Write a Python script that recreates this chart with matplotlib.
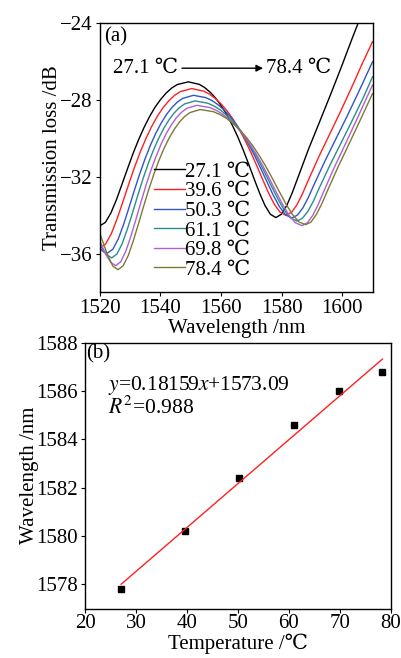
import matplotlib
matplotlib.use('Agg')
import matplotlib.pyplot as plt

plt.rcParams['font.family'] = ['Liberation Serif', 'DejaVu Serif', 'DejaVu Sans']
plt.rcParams['mathtext.fontset'] = 'stix'

# (a) transmission spectra
temps = ['27.1', '39.6', '50.3', '61.1', '69.8', '78.4']
colors = ['black', '#ff2020', '#2f55c8', '#2a8e8a', '#b060d0', '#7d7a35']

wl_271 = [1520, 1521.83, 1523.65, 1525.48, 1527.3, 1529.13, 1530.95, 1532.78, 1534.6, 1536.43, 1538.25,
          1540.08, 1541.9, 1543.73, 1545.55, 1549.2, 1552.81, 1554.62, 1556.43, 1558.23, 1560.04, 1561.84,
          1563.65, 1565.46, 1567.26, 1569.07, 1570.88, 1572.68, 1574.49, 1576.29, 1578.1, 1579.9, 1581.7,
          1583.5, 1585.3, 1588.9, 1592.5, 1596.2, 1599.8, 1603.4, 1607.0, 1610]
tl_271 = [-34.55, -34.37, -33.88, -33.19, -32.39, -31.58, -30.79, -30.07, -29.43, -28.86, -28.37,
          -27.97, -27.64, -27.38, -27.20, -27.06, -27.19, -27.36, -27.60, -27.91, -28.30, -28.75,
          -29.29, -29.90, -30.58, -31.32, -32.09, -32.83, -33.49, -33.95, -34.12, -33.95, -33.49,
          -32.83, -32.07, -30.55, -29.15, -27.70, -26.25, -24.75, -23.30, -22.0]

wl_396 = [1520, 1521.89, 1523.79, 1525.68, 1527.58, 1529.47, 1531.36, 1533.26, 1535.15, 1537.04, 1538.94,
          1540.83, 1542.73, 1544.62, 1546.51, 1550.3, 1554.19, 1556.13, 1558.08, 1560.02, 1561.96, 1563.91,
          1565.85, 1567.79, 1569.74, 1571.68, 1573.63, 1575.57, 1577.51, 1579.46, 1581.4, 1583.3, 1585.0,
          1586.8, 1588.6, 1592.2, 1595.8, 1599.5, 1603.1, 1606.7, 1610]
tl_396 = [-35.70, -35.50, -34.96, -34.19, -33.31, -32.41, -31.54, -30.74, -30.03, -29.40, -28.86,
          -28.41, -28.05, -27.77, -27.57, -27.41, -27.54, -27.69, -27.92, -28.21, -28.56, -28.99,
          -29.49, -30.06, -30.69, -31.38, -32.10, -32.80, -33.41, -33.84, -34.00, -33.84, -33.47,
          -32.91, -32.25, -30.98, -29.80, -28.58, -27.35, -26.08, -24.97]

wl_503 = [1520, 1521.2, 1522.5, 1524.28, 1526.05, 1527.83, 1529.6, 1531.38, 1533.15, 1534.93, 1536.7,
          1538.48, 1540.25, 1542.03, 1543.8, 1545.58, 1547.35, 1550.9, 1554.96, 1556.99, 1559.03, 1561.06,
          1563.09, 1565.12, 1567.15, 1569.18, 1571.21, 1573.24, 1575.28, 1577.31, 1579.34, 1581.37, 1583.4,
          1585.2, 1587.0, 1588.8, 1590.6, 1594.2, 1597.8, 1601.5, 1605.1, 1608.7, 1610]
tl_503 = [-35.70, -35.90, -35.97, -35.77, -35.24, -34.48, -33.61, -32.71, -31.85, -31.06, -30.35,
          -29.73, -29.20, -28.75, -28.39, -28.11, -27.92, -27.76, -27.88, -28.03, -28.25, -28.53,
          -28.88, -29.29, -29.78, -30.33, -30.94, -31.61, -32.30, -32.98, -33.57, -33.99, -34.14,
          -33.99, -33.62, -33.08, -32.44, -31.21, -30.06, -28.88, -27.69, -26.46, -26.02]

wl_611 = [1520, 1522.0, 1523.9, 1525.62, 1527.34, 1529.06, 1530.78, 1532.49, 1534.21, 1535.93, 1537.65,
          1539.37, 1541.09, 1542.81, 1544.53, 1546.24, 1547.96, 1551.4, 1555.61, 1557.72, 1559.83, 1561.93,
          1564.04, 1566.14, 1568.25, 1570.36, 1572.46, 1574.57, 1576.68, 1578.78, 1580.89, 1583.0, 1585.1,
          1586.9, 1588.7, 1590.5, 1592.3, 1595.9, 1599.5, 1603.2, 1606.8, 1610]
tl_611 = [-35.50, -36.02, -36.22, -36.02, -35.49, -34.73, -33.87, -32.98, -32.12, -31.33, -30.63,
          -30.01, -29.48, -29.04, -28.68, -28.40, -28.21, -28.05, -28.17, -28.32, -28.53, -28.81,
          -29.14, -29.55, -30.03, -30.56, -31.16, -31.82, -32.50, -33.16, -33.74, -34.15, -34.30,
          -34.15, -33.79, -33.26, -32.62, -31.41, -30.27, -29.10, -27.93, -26.80]

wl_698 = [1520, 1522.0, 1523.6, 1525.2, 1526.88, 1528.55, 1530.23, 1531.9, 1533.58, 1535.25, 1536.93,
          1538.6, 1540.28, 1541.95, 1543.63, 1545.3, 1546.98, 1548.65, 1552.0, 1556.34, 1558.51, 1560.68,
          1562.84, 1565.01, 1567.18, 1569.35, 1571.52, 1573.69, 1575.86, 1578.03, 1580.19, 1582.36, 1584.53,
          1586.7, 1588.5, 1590.3, 1592.1, 1593.9, 1597.5, 1601.1, 1604.8, 1608.4, 1610]
tl_698 = [-35.35, -36.05, -36.45, -36.62, -36.42, -35.88, -35.10, -34.22, -33.31, -32.43, -31.63,
          -30.92, -30.28, -29.74, -29.29, -28.92, -28.64, -28.44, -28.28, -28.40, -28.55, -28.76,
          -29.04, -29.38, -29.78, -30.26, -30.80, -31.40, -32.06, -32.74, -33.40, -33.98, -34.39,
          -34.54, -34.39, -34.00, -33.43, -32.76, -31.47, -30.27, -29.02, -27.77, -27.23]

wl_784 = [1520, 1522.6, 1524.3, 1526.0, 1527.69, 1529.39, 1531.08, 1532.78, 1534.47, 1536.16, 1537.86,
          1539.55, 1541.24, 1542.94, 1544.63, 1546.33, 1548.02, 1549.71, 1553.1, 1557.45, 1559.63, 1561.8,
          1563.98, 1566.15, 1568.33, 1570.5, 1572.68, 1574.85, 1577.03, 1579.2, 1581.38, 1583.55, 1585.73,
          1587.9, 1589.7, 1591.5, 1593.3, 1595.1, 1598.7, 1602.3, 1606.0, 1610]
tl_784 = [-34.95, -36.09, -36.65, -36.83, -36.63, -36.09, -35.31, -34.43, -33.52, -32.65, -31.85,
          -31.13, -30.50, -29.96, -29.51, -29.14, -28.86, -28.66, -28.50, -28.61, -28.76, -28.96,
          -29.23, -29.55, -29.94, -30.39, -30.91, -31.48, -32.11, -32.76, -33.40, -33.96, -34.35,
          -34.49, -34.35, -33.95, -33.39, -32.73, -31.46, -30.27, -29.03, -27.67]

wavelengths = [wl_271, wl_396, wl_503, wl_611, wl_698, wl_784]
losses = [tl_271, tl_396, tl_503, tl_611, tl_698, tl_784]

# (b) dip wavelength vs temperature
temp_vals = [27.1, 39.6, 50.3, 61.1, 69.8, 78.4]
dip_wl = [1577.8, 1580.2, 1582.4, 1584.6, 1586.0, 1586.8]
slope, intercept = 0.18159, 1573.09

fs = 15

fig = plt.figure(figsize=(4.01, 6.58), dpi=100)
ax1 = fig.add_axes([0.249, 0.556, 0.680, 0.409])
ax2 = fig.add_axes([0.212, 0.075, 0.762, 0.404])

for wl, tl, c, t in zip(wavelengths, losses, colors, temps):
    ax1.plot(wl, tl, color=c, linewidth=1.0, label=f'{t} ℃')

ax1.set_xlim(1520, 1610)
ax1.set_ylim(-38, -24)
ax1.set_xticks([1520, 1540, 1560, 1580, 1600])
ax1.set_yticks([-36, -32, -28, -24])
ax1.set_xlabel('Wavelength /nm', fontsize=fs, labelpad=1)
ax1.set_ylabel('Transmission loss /dB', fontsize=fs, labelpad=-1)
ax1.text(0.015, 0.985, '(a)', transform=ax1.transAxes, fontsize=fs, va='top', ha='left')
ax1.annotate('', xy=(1574.8, -26.35), xytext=(1546.2, -26.35),
             arrowprops=dict(arrowstyle='-|>', color='black', lw=1.0, mutation_scale=10))
ax1.text(1546.0, -26.35, '27.1 ℃', fontsize=fs, va='center', ha='right')
ax1.text(1574.8, -26.35, '78.4 ℃', fontsize=fs, va='center', ha='left')
ax1.legend(loc='upper left', bbox_to_anchor=(0.2, 0.483), frameon=False, fontsize=fs,
           handlelength=1.45, handletextpad=0.0, labelspacing=0.0, borderpad=0, borderaxespad=0)

ax2.plot(temp_vals, dip_wl, 's', color='black', markersize=5)
fit_x = [temp_vals[0], temp_vals[-1]]
fit_y = [slope * x + intercept for x in fit_x]
ax2.plot(fit_x, fit_y, color='#ff2020', linewidth=1.0)
ax2.set_xlim(20, 80)
ax2.set_ylim(1577, 1588)
ax2.set_xticks([20, 30, 40, 50, 60, 70, 80])
ax2.set_yticks([1578, 1580, 1582, 1584, 1586, 1588])
ax2.set_xlabel('Temperature /℃', fontsize=fs, labelpad=0)
ax2.set_ylabel('Wavelength /nm', fontsize=fs, labelpad=-2)
ax2.text(0.005, 0.995, '(b)', transform=ax2.transAxes, fontsize=fs, va='top', ha='left')
ax2.text(0.075, 0.84, f'$y$={slope}$x$+{intercept}', transform=ax2.transAxes, fontsize=15.5, va='center')
ax2.text(0.075, 0.757, '$R^2$=0.988', transform=ax2.transAxes, fontsize=15.5, va='center')

for ax in (ax1, ax2):
    ax.tick_params(direction='out', length=3, width=0.8, labelsize=fs, pad=2, top=False, right=False)
    for sp in ax.spines.values():
        sp.set_linewidth(1.0)
ax2.tick_params(axis='x', pad=1)

fig.savefig('out.png', dpi=100)
